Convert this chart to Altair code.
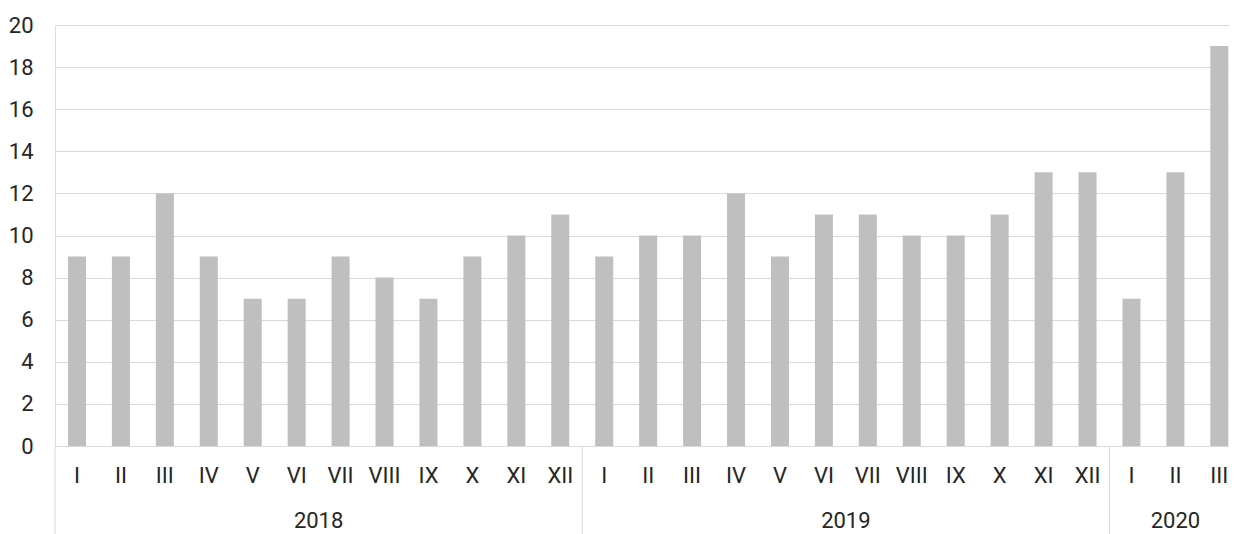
import altair as alt
import pandas as pd

# ---- data ----
months = ["I", "II", "III", "IV", "V", "VI", "VII", "VIII", "IX", "X", "XI", "XII",
          "I", "II", "III", "IV", "V", "VI", "VII", "VIII", "IX", "X", "XI", "XII",
          "I", "II", "III"]
years = ["2018"] * 12 + ["2019"] * 12 + ["2020"] * 3
values = [9, 9, 12, 9, 7, 7, 9, 8, 7, 9, 10, 11,
          9, 10, 10, 12, 9, 11, 11, 10, 10, 11, 13, 13,
          7, 13, 19]
year_labels = ["2018", "2019", "2020"]
year_sizes = [12, 12, 3]

FONT = "Roboto"
TEXT_COLOR = "#262626"
BAR_COLOR = "#bfbfbf"
GRID_COLOR = "#d9d9d9"
FS = 22

PLOT_W = 1174
PLOT_H = 421
X_MAX = 26.72  # visible part of the 27 category slots

# ---- tables built from the arrays ----
bars = pd.DataFrame({
    "idx": list(range(len(values))),
    "month": months,
    "year": years,
    "value": values,
})
bars["start"] = bars["idx"] + 0.295
bars["end"] = bars["idx"] + 0.705
bars["mid"] = bars["idx"] + 0.5
bars["zero"] = 0

starts = []
acc = 0
for s in year_sizes:
    starts.append(acc)
    acc += s
yrs = pd.DataFrame({"year": year_labels, "start": starts, "size": year_sizes})
yrs["center"] = yrs["start"] + yrs["size"] / 2

xscale = alt.Scale(domain=[0, X_MAX], nice=False, zero=False)
yscale = alt.Scale(domain=[0, 20], nice=False)

bar_layer = alt.Chart(bars).mark_rect(color=BAR_COLOR, clip=True).encode(
    x=alt.X("start:Q", scale=xscale, axis=None),
    x2="end:Q",
    y=alt.Y("value:Q", scale=yscale,
            axis=alt.Axis(values=list(range(0, 21, 2)), grid=True, gridColor=GRID_COLOR,
                          gridWidth=1, domain=False, ticks=False, labelPadding=22,
                          labelFont=FONT, labelFontSize=FS, labelColor=TEXT_COLOR,
                          title=None)),
    y2="zero:Q",
)

month_layer = alt.Chart(bars).mark_text(
    font=FONT, fontSize=FS, color=TEXT_COLOR, baseline="middle", align="center"
).encode(
    x=alt.X("mid:Q", scale=xscale, axis=None),
    y=alt.value(PLOT_H + 30),
    text="month:N",
)

year_layer = alt.Chart(yrs).mark_text(
    font=FONT, fontSize=FS, color=TEXT_COLOR, baseline="middle", align="center"
).encode(
    x=alt.X("center:Q", scale=xscale, axis=None),
    y=alt.value(PLOT_H + 75),
    text="year:N",
)

sep_layer = alt.Chart(yrs).mark_rule(color=GRID_COLOR, strokeWidth=1).encode(
    x=alt.X("start:Q", scale=xscale, axis=None),
    y=alt.value(PLOT_H),
    y2=alt.value(PLOT_H + 90),
)

chart = alt.layer(bar_layer, sep_layer, month_layer, year_layer).properties(
    width=PLOT_W,
    height=PLOT_H,
    autosize=alt.AutoSizeParams(type="none"),
    padding={"left": 47, "top": 17, "right": 0, "bottom": 88},
).configure_view(stroke=None).configure(background="white")

chart.save("out.html", embed_options={"renderer": "svg", "actions": False})
